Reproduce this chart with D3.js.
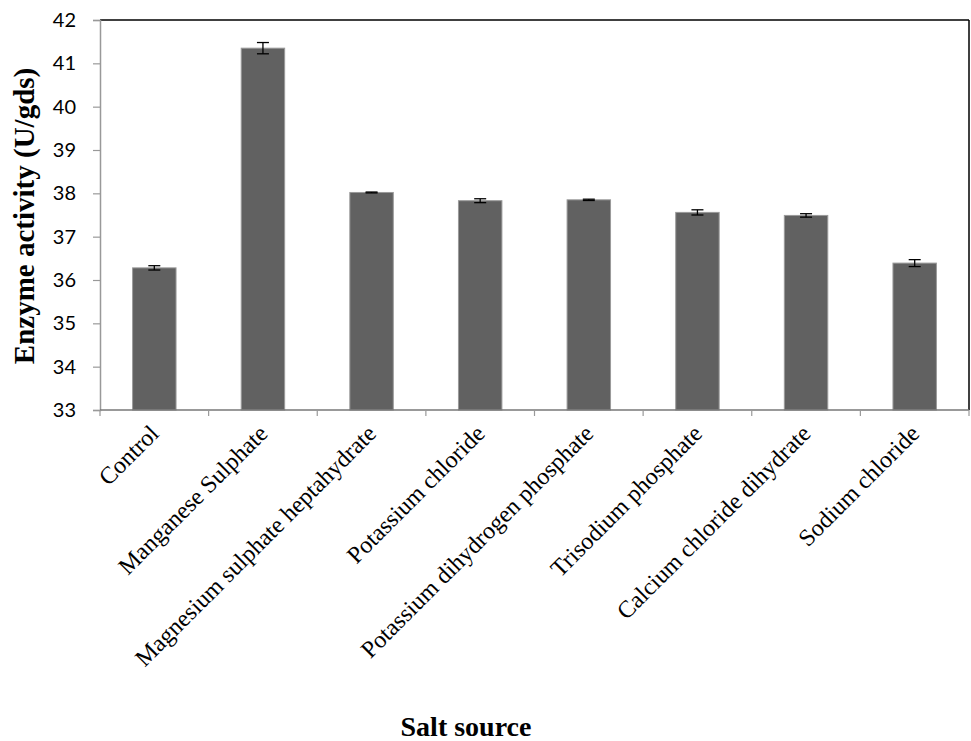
<!DOCTYPE html>
<html>
<head>
<meta charset="utf-8">
<script src="https://cdn.jsdelivr.net/npm/d3@7"></script>
<style>
  html, body { margin: 0; padding: 0; background: #fff; }
  svg { display: block; }
</style>
</head>
<body>
<svg id="chart" width="971" height="741"></svg>
<script>
const categories = ["Control", "Manganese Sulphate", "Magnesium sulphate heptahydrate", "Potassium chloride",
  "Potassium dihydrogen phosphate", "Trisodium phosphate", "Calcium chloride dihydrate", "Sodium chloride"];
const values = [36.28, 41.35, 38.02, 37.83, 37.85, 37.56, 37.49, 36.39];
const errors = [0.05, 0.13, 0.01, 0.045, 0.015, 0.06, 0.04, 0.08];
const yTicks = [33, 34, 35, 36, 37, 38, 39, 40, 41, 42];
const yTitle = "Enzyme activity (U/gds)";
const xTitle = "Salt source";

const svg = d3.select("#chart");
const mLeft = 100, mRight = 969, mTop = 20, mBottom = 410;

const x = d3.scaleBand().domain(categories).range([mLeft, mRight]).padding(0);
const y = d3.scaleLinear().domain([33, 42]).range([mBottom, mTop]);

// bars
const barW = x.bandwidth() * 0.4;
svg.append("g").selectAll("rect").data(categories).join("rect")
  .attr("x", d => x(d) + (x.bandwidth() - barW) / 2)
  .attr("y", (d, i) => y(values[i]))
  .attr("width", barW)
  .attr("height", (d, i) => y(33) - y(values[i]))
  .attr("fill", "#616161")
  .attr("stroke", "#9a9a9a")
  .attr("stroke-width", 1);

// error bars
const eg = svg.append("g").attr("stroke", "#000").attr("stroke-width", 1.3);
categories.forEach((c, i) => {
  const cx = x(c) + x.bandwidth() / 2;
  const y1 = y(values[i] + errors[i]), y2 = y(values[i] - errors[i]);
  eg.append("line").attr("x1", cx).attr("x2", cx).attr("y1", y1).attr("y2", y2);
  eg.append("line").attr("x1", cx - 6).attr("x2", cx + 6).attr("y1", y1).attr("y2", y1);
  eg.append("line").attr("x1", cx - 6).attr("x2", cx + 6).attr("y1", y2).attr("y2", y2);
});

// frame top & right (black)
svg.append("line").attr("x1", mLeft).attr("x2", mRight).attr("y1", mTop).attr("y2", mTop)
  .attr("stroke", "#000").attr("stroke-width", 1.5);
svg.append("line").attr("x1", mRight).attr("x2", mRight).attr("y1", mTop).attr("y2", mBottom)
  .attr("stroke", "#000").attr("stroke-width", 1.5);

// y axis
const yAxis = svg.append("g").attr("transform", `translate(${mLeft},0)`)
  .call(d3.axisLeft(y).tickValues(yTicks).tickSize(7).tickPadding(17).tickFormat(d3.format("d")));
yAxis.select(".domain").attr("stroke", "#999").attr("stroke-width", 1.5);
yAxis.selectAll(".tick line").attr("stroke", "#999").attr("stroke-width", 1.2);
yAxis.selectAll(".tick text").attr("font-family", "Lato, 'Open Sans', sans-serif")
  .attr("font-size", 20).attr("fill", "#000");

// x axis
const boundaries = categories.map(c => x(c)).concat([mRight]);
const xg = svg.append("g");
xg.append("line").attr("x1", mLeft).attr("x2", mRight).attr("y1", mBottom).attr("y2", mBottom)
  .attr("stroke", "#777").attr("stroke-width", 1.5);
xg.selectAll("line.tk").data(boundaries).join("line").attr("class", "tk")
  .attr("x1", d => d).attr("x2", d => d).attr("y1", mBottom).attr("y2", mBottom + 6)
  .attr("stroke", "#999").attr("stroke-width", 1.2);

xg.selectAll("text").data(categories).join("text")
  .attr("transform", d => `translate(${x(d) + x.bandwidth() / 2 + 6},${mBottom + 25}) rotate(-45)`)
  .attr("text-anchor", "end")
  .attr("font-family", "'Liberation Serif', 'Times New Roman', serif")
  .attr("font-size", 24)
  .attr("fill", "#000")
  .text(d => d);

// titles
svg.append("text")
  .attr("transform", `translate(34,216) rotate(-90)`)
  .attr("text-anchor", "middle")
  .attr("font-family", "'Liberation Serif', 'Times New Roman', serif")
  .attr("font-weight", "bold").attr("font-size", 29).attr("fill", "#000")
  .text(yTitle);

svg.append("text")
  .attr("x", 466).attr("y", 736)
  .attr("text-anchor", "middle")
  .attr("font-family", "'Liberation Serif', 'Times New Roman', serif")
  .attr("font-weight", "bold").attr("font-size", 28).attr("fill", "#000")
  .text(xTitle);
</script>
</body>
</html>
